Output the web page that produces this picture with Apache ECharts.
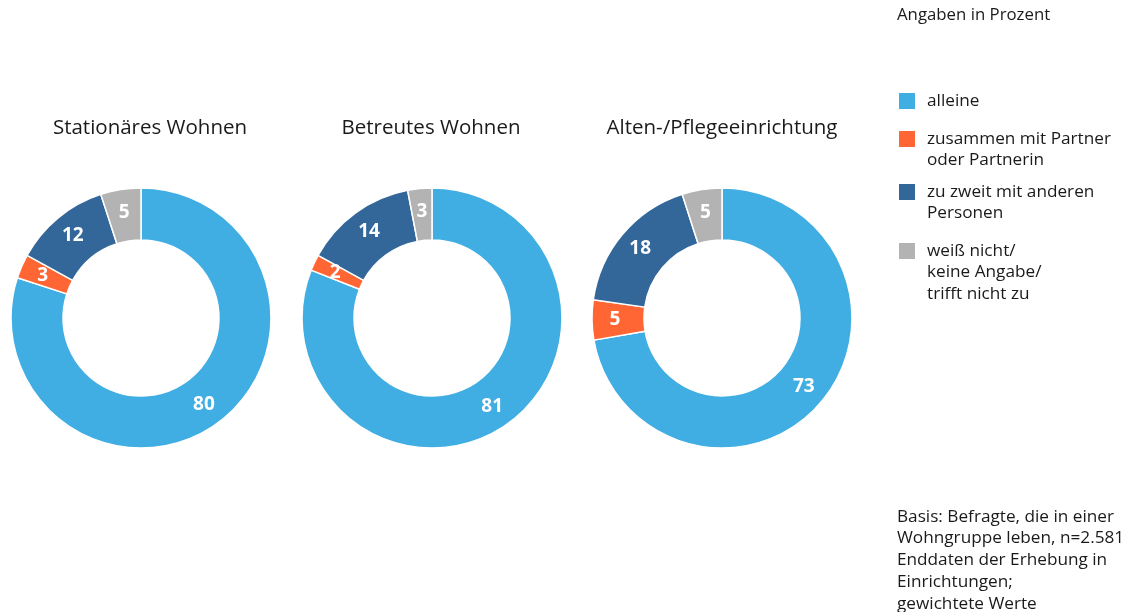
<!DOCTYPE html>
<html>
<head>
<meta charset="utf-8">
<title>Wohnform</title>
<script src="https://cdn.jsdelivr.net/npm/echarts@6/dist/echarts.min.js"></script>
<style>
	html, body { margin: 0; padding: 0; background: #fff; }
	#main { width: 1132px; height: 612px; }
</style>
</head>
<body>
<div id="main"></div>
<script>
//数据
var categories = ['alleine', 'zusammen mit Partner\noder Partnerin', 'zu zweit mit anderen\nPersonen', 'weiß nicht/\nkeine Angabe/\ntrifft nicht zu'];
var groups = ['Stationäres Wohnen', 'Betreutes Wohnen', 'Alten-/Pflegeeinrichtung'];
var valuesStationaer = [80, 3, 12, 5];
var valuesBetreut = [81, 2, 14, 3];
var valuesPflege = [73, 5, 18, 5];
var colors = ['#41aee3', '#ff6633', '#336699', '#b3b3b3'];
var noteText = 'Basis: Befragte, die in einer\nWohngruppe leben, n=2.581\nEnddaten der Erhebung in\nEinrichtungen;\ngewichtete Werte';

var fontName = '"Open Sans", "Noto Sans", sans-serif';
var allValues = [valuesStationaer, valuesBetreut, valuesPflege];
var centersX = [141, 432, 722];
var titleX = [145, 426, 717];

//饼图
var series = [];
var titles = [];
for (var i = 0; i < groups.length; i++) {
	var data = [];
	for (var j = 0; j < categories.length; j++) {
		data.push({ name: categories[j], value: allValues[i][j], itemStyle: { color: colors[j] } });
	}
	series.push({
		type: 'pie',
		name: groups[i],
		center: [centersX[i], 318],
		radius: [78, 130],
		startAngle: 90,
		clockwise: true,
		silent: true,
		itemStyle: { borderColor: '#fff', borderWidth: 1.5 },
		label: {
			show: true,
			position: 'inside',
			formatter: '{c}',
			color: '#fff',
			fontFamily: fontName,
			fontWeight: 'bold',
			fontSize: 19
		},
		labelLine: { show: false },
		data: data
	});
	titles.push({
		text: groups[i],
		left: titleX[i],
		top: 113,
		textAlign: 'center',
		textStyle: { fontFamily: fontName, fontWeight: 'normal', fontSize: 20.5, color: '#1a1a1a' }
	});
}

//图例（手动画，首行对齐色块）
var legendTop = [93, 131, 184, 243];
var graphics = [];
for (var k = 0; k < categories.length; k++) {
	graphics.push({
		type: 'rect',
		left: 899,
		top: legendTop[k],
		shape: { width: 16, height: 16 },
		style: { fill: colors[k] }
	});
	graphics.push({
		type: 'text',
		left: 927,
		top: legendTop[k] - 3,
		style: { text: categories[k], fill: '#1a1a1a', font: '17.2px ' + fontName, lineHeight: 21.5 }
	});
}
graphics.push({
	type: 'text',
	left: 897,
	top: 7,
	style: { text: 'Angaben in Prozent', fill: '#1a1a1a', font: '16.8px ' + fontName }
});
graphics.push({
	type: 'text',
	left: 897,
	top: 506,
	style: { text: noteText, fill: '#1a1a1a', font: '17.2px ' + fontName, lineHeight: 21.7 }
});

var myChart = echarts.init(document.getElementById('main'), null, { renderer: 'canvas' });
myChart.setOption({
	animation: false,
	backgroundColor: '#fff',
	title: titles,
	graphic: graphics,
	series: series
});
</script>
</body>
</html>
